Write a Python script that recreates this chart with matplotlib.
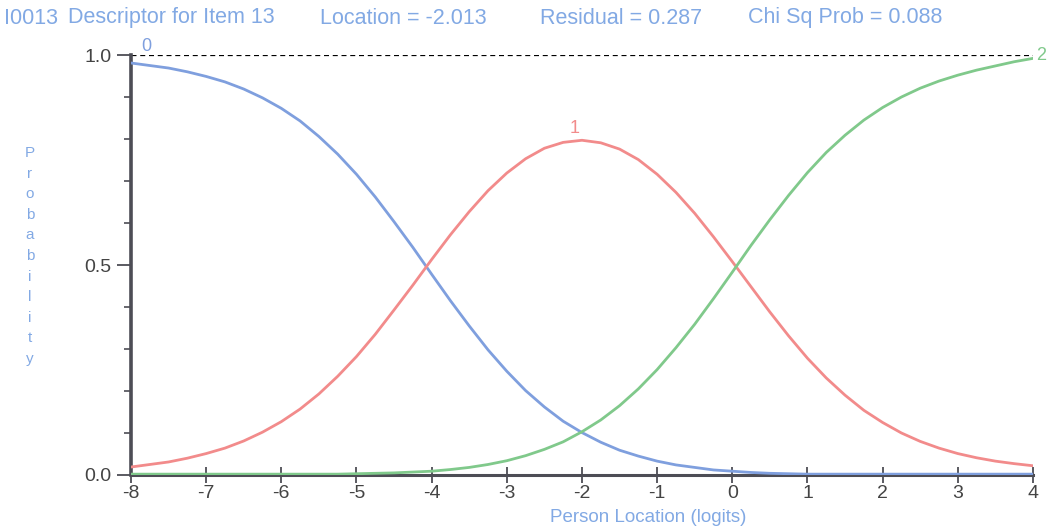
import matplotlib
matplotlib.use("Agg")
import matplotlib.pyplot as plt
import numpy as np

# person locations (logits) and category probabilities
location = [-8.0, -7.75, -7.5, -7.25, -7.0, -6.75, -6.5, -6.25, -6.0, -5.75,
            -5.5, -5.25, -5.0, -4.75, -4.5, -4.25, -4.0, -3.75, -3.5, -3.25,
            -3.0, -2.75, -2.5, -2.25, -2.0, -1.75, -1.5, -1.25, -1.0, -0.75,
            -0.5, -0.25, 0.0, 0.25, 0.5, 0.75, 1.0, 1.25, 1.5, 1.75,
            2.0, 2.25, 2.5, 2.75, 3.0, 3.25, 3.5, 3.75, 4.0]
cat0 = [0.981, 0.975, 0.969, 0.960, 0.949, 0.936, 0.919, 0.898, 0.873, 0.843,
        0.806, 0.764, 0.716, 0.662, 0.603, 0.542, 0.478, 0.415, 0.355, 0.298,
        0.247, 0.201, 0.162, 0.128, 0.101, 0.078, 0.059, 0.045, 0.033, 0.024,
        0.018, 0.012, 0.009, 0.006, 0.004, 0.003, 0.002, 0.002, 0.002, 0.002,
        0.002, 0.002, 0.002, 0.002, 0.002, 0.002, 0.002, 0.002, 0.002]
cat1 = [0.019, 0.025, 0.031, 0.040, 0.051, 0.064, 0.081, 0.102, 0.127, 0.157,
        0.193, 0.235, 0.282, 0.335, 0.393, 0.452, 0.513, 0.572, 0.627, 0.677,
        0.719, 0.753, 0.778, 0.792, 0.797, 0.791, 0.776, 0.751, 0.716, 0.673,
        0.623, 0.567, 0.508, 0.448, 0.388, 0.331, 0.278, 0.231, 0.190, 0.154,
        0.125, 0.100, 0.080, 0.064, 0.051, 0.041, 0.033, 0.027, 0.022]
cat2 = [0.002, 0.002, 0.002, 0.002, 0.002, 0.002, 0.002, 0.002, 0.002, 0.002,
        0.002, 0.002, 0.003, 0.004, 0.005, 0.007, 0.009, 0.013, 0.018, 0.025,
        0.034, 0.046, 0.061, 0.079, 0.103, 0.131, 0.165, 0.205, 0.251, 0.303,
        0.359, 0.420, 0.483, 0.547, 0.608, 0.666, 0.720, 0.768, 0.809, 0.845,
        0.875, 0.900, 0.921, 0.938, 0.952, 0.964, 0.974, 0.984, 0.992]

title_parts = ["I0013", "Descriptor for Item 13", "Location = -2.013",
               "Residual = 0.287", "Chi Sq Prob = 0.088"]
xticks = [-8, -7, -6, -5, -4, -3, -2, -1, 0, 1, 2, 3, 4]

BLUE = "#7f9fde"
RED = "#f28b8b"
GREEN = "#80c98b"
LABEL = "#82a9e4"
AXIS = "#4d4d55"

plt.rcParams["font.family"] = ["Liberation Sans", "DejaVu Sans"]

fig = plt.figure(figsize=(10.47, 5.29), dpi=100)
ax = fig.add_axes([0.1251, 0.1021, 0.8615, 0.7939])

ax.plot(location, cat0, color=BLUE, lw=2.0, zorder=3)
ax.plot(location, cat1, color=RED, lw=2.0, zorder=3)
ax.plot(location, cat2, color=GREEN, lw=2.0, zorder=3)
ax.axhline(1.0, color="black", lw=0.9, ls=(0, (4, 3)), zorder=2)

ax.set_xlim(-8, 4)
ax.set_ylim(0, 1)
for s in ["top", "right"]:
    ax.spines[s].set_visible(False)
ax.spines["left"].set_color(AXIS)
ax.spines["left"].set_linewidth(2.6)
ax.spines["bottom"].set_color(AXIS)
ax.spines["bottom"].set_linewidth(2.2)
ax.spines["bottom"].set_zorder(1)

ax.set_xticks(xticks)
ax.set_xticklabels([str(t) for t in xticks])
ax.set_yticks([0.0, 0.5, 1.0])
ax.set_yticklabels(["0.0", "0.5", "1.0"])
ax.set_yticks(np.arange(0.1, 1.0, 0.1), minor=True)
ax.tick_params(axis="x", direction="inout", length=12, width=1.3,
               color=AXIS, labelcolor="#444", labelsize=14, pad=1)
ax.tick_params(axis="y", which="major", direction="out", length=10,
               width=1.3, color=AXIS, labelcolor="#444", labelsize=14, pad=4)
ax.tick_params(axis="y", which="minor", direction="out", length=5,
               width=1.2, color=AXIS)

# category numbers at the curves
ax.text(-7.8, 1.0, "0", color=BLUE, fontsize=13, ha="center", va="bottom",
        clip_on=False)
ax.text(-2.1, 0.805, "1", color=RED, fontsize=13, ha="center", va="bottom")
ax.text(4.04, 1.0, "2", color=GREEN, fontsize=13, ha="left", va="center",
        clip_on=False)

# header line
xs = [4, 68, 320, 540, 748]
for x, s in zip(xs, title_parts):
    fig.text(x / 1047, 1 - 18 / 529, s, color=LABEL, fontsize=15.5,
             ha="left", va="center")

fig.text(648 / 1047, 1 - 517 / 529, "Person Location (logits)", color=LABEL,
         fontsize=13.5, ha="center", va="center")
fig.text(30 / 1047, 1 - 256 / 529, "\n".join("Probability"), color=LABEL,
         fontsize=11, ha="center", va="center", linespacing=1.6)

fig.savefig("out.png", dpi=100)
